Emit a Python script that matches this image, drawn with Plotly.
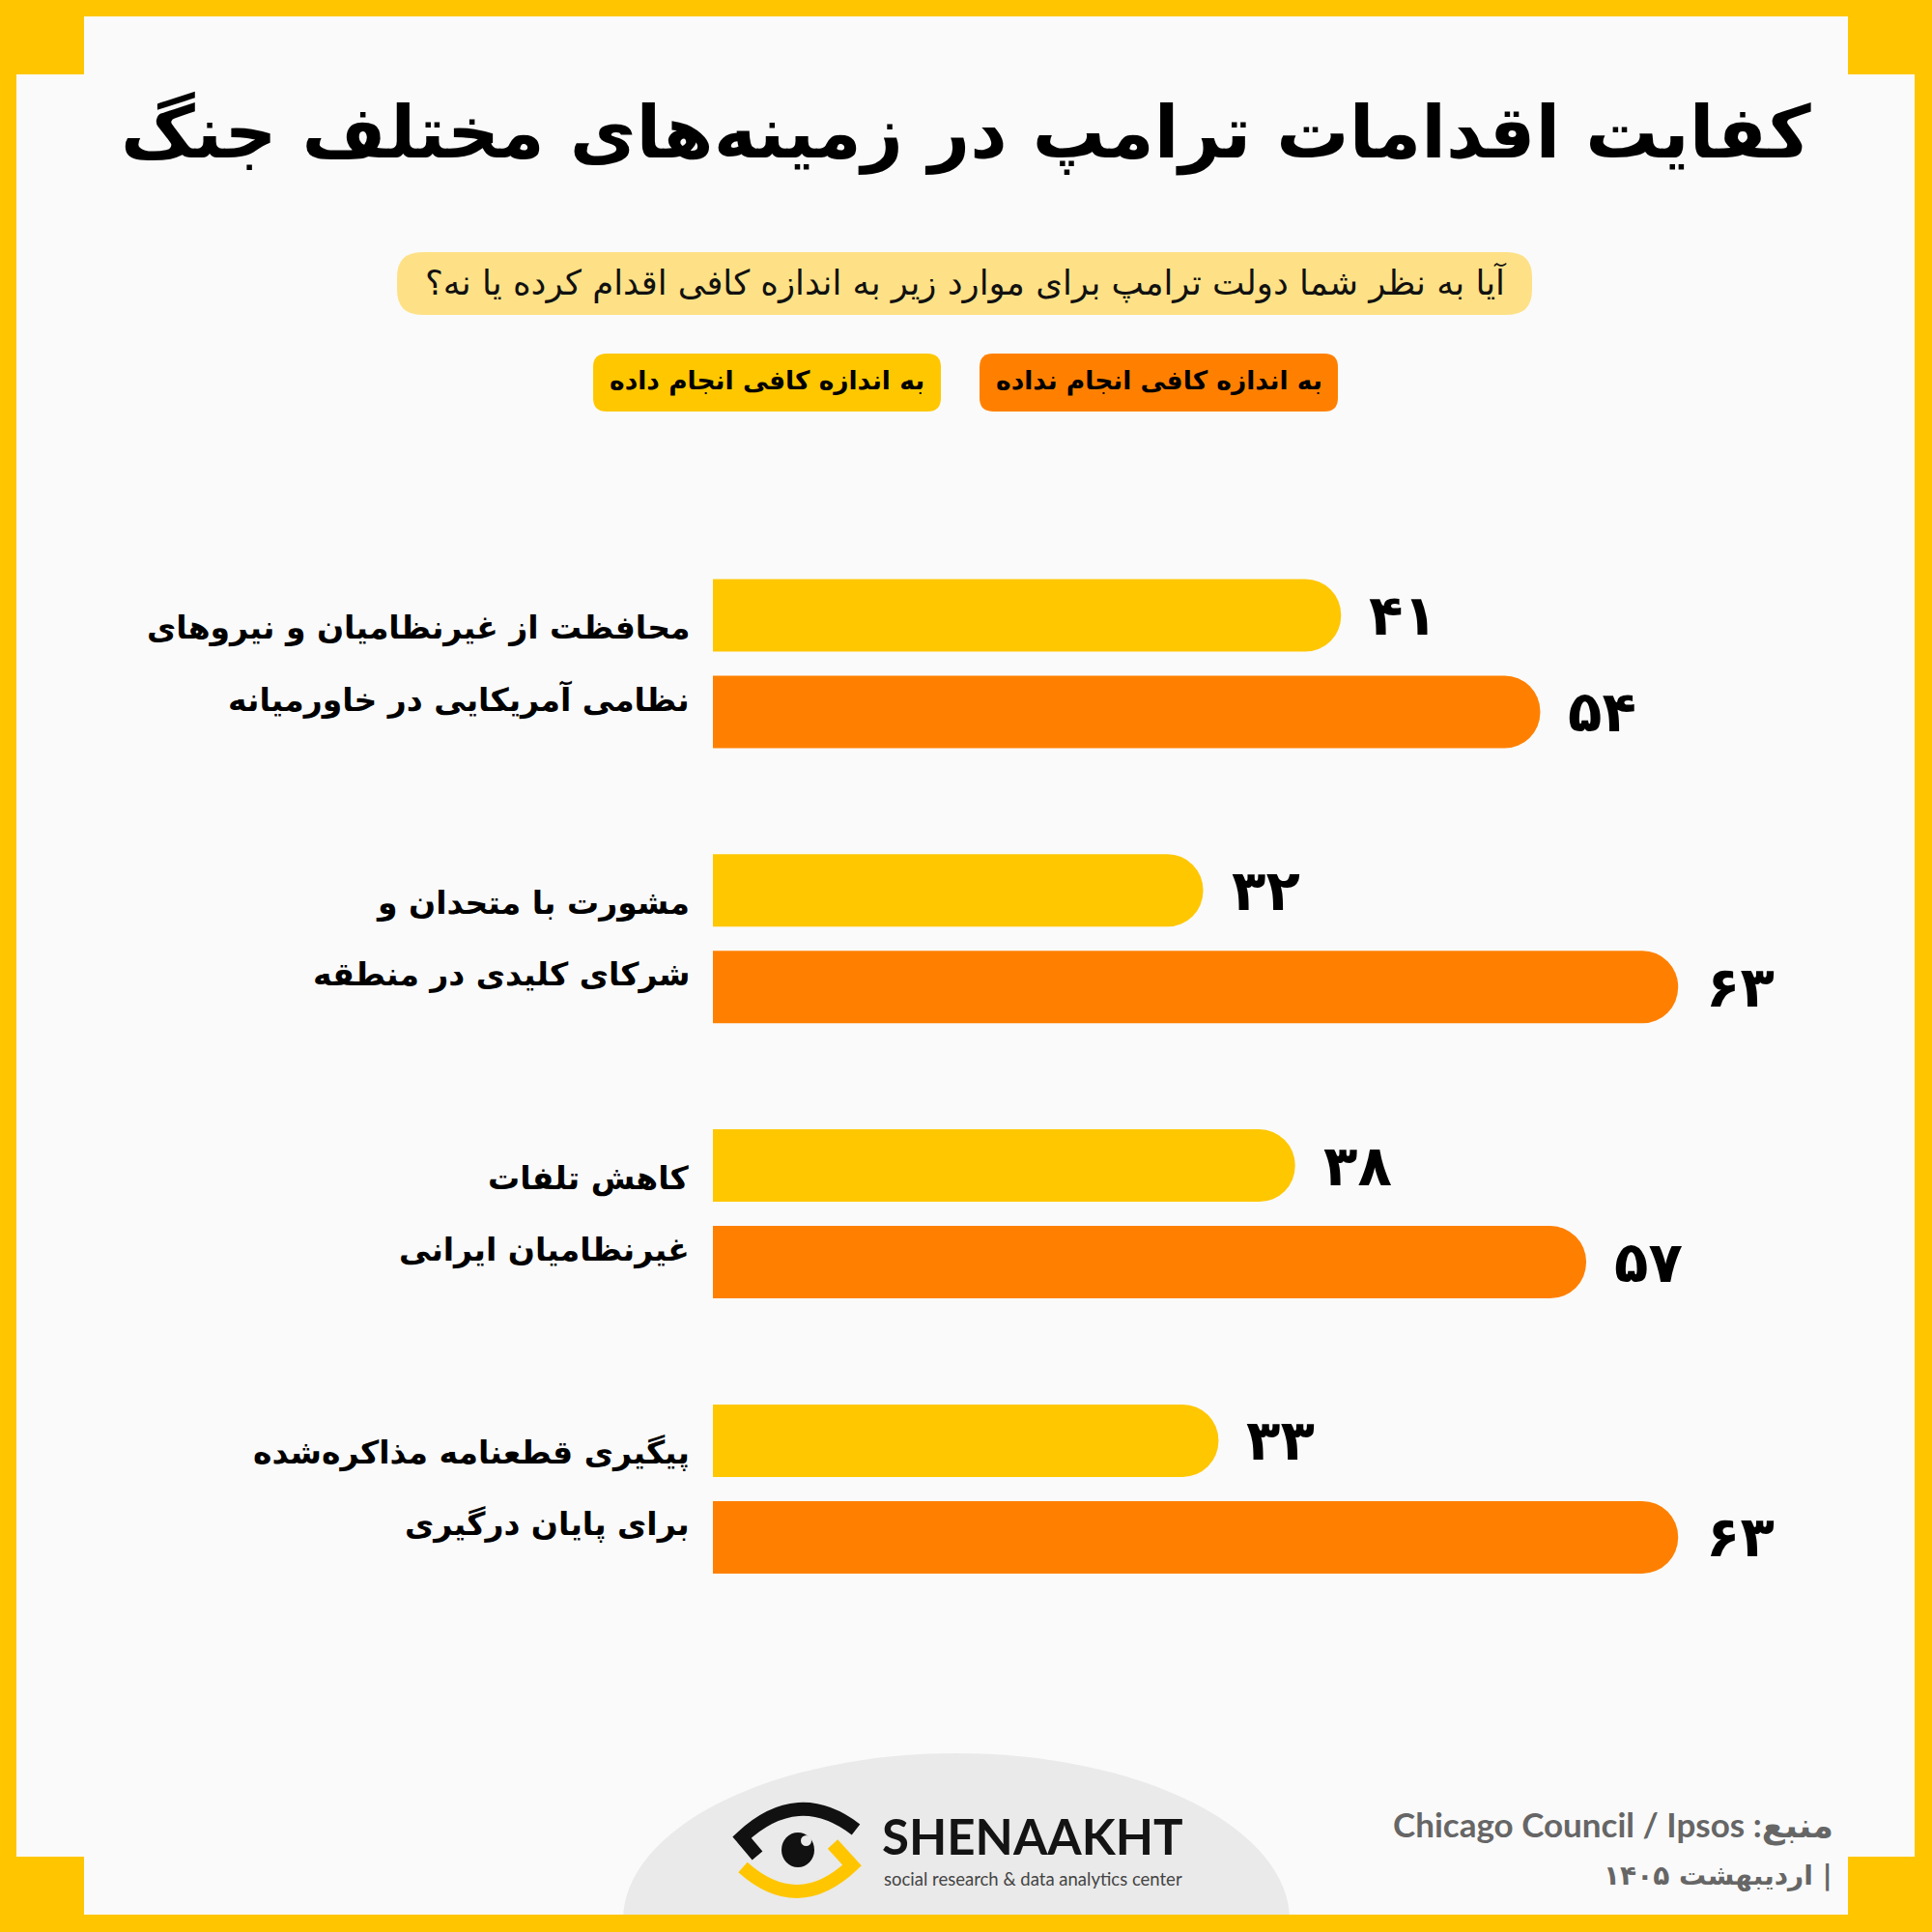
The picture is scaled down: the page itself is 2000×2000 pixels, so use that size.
import plotly.graph_objects as go

# ---------------- data ----------------
categories = [
    "محافظت از غیرنظامیان و نیروهای\nنظامی آمریکایی در خاورمیانه",
    "مشورت با متحدان و\nشرکای کلیدی در منطقه",
    "کاهش تلفات\nغیرنظامیان ایرانی",
    "پیگیری قطعنامه مذاکره‌شده\nبرای پایان درگیری",
]
done_values = [41, 32, 38, 33]        # به اندازه کافی انجام داده
not_done_values = [54, 63, 57, 63]    # به اندازه کافی انجام نداده
series_names = ["به اندازه کافی انجام داده", "به اندازه کافی انجام نداده"]
title_text = "کفایت اقدامات ترامپ در زمینه‌های مختلف جنگ"
question_text = "آیا به نظر شما دولت ترامپ برای موارد زیر به اندازه کافی اقدام کرده یا نه؟"
source_text = "Chicago Council / Ipsos :منبع"
date_text = "۱۴۰۵ اردیبهشت |"
brand_name = "SHENAAKHT"
brand_tagline = "social research & data analytics center"

# ---------------- style ----------------
W = H = 2000
YELLOW = "#FFC700"
ORANGE = "#FF8000"
BORDER = "#FFC600"
BG = "#FAFAFA"
FA = "DejaVu Sans"

PX_PER_UNIT = 15.86
X0_PX = 738
GROUP_PX = 284.8
FIRST_CENTER_PX = 687
BAR_PX = 75
HALF_SEP_PX = 50

def fa_digits(v):
    return str(v).translate(str.maketrans("0123456789", "۰۱۲۳۴۵۶۷۸۹"))

def px(x):
    return x / W

def py(y):
    return 1 - y / H

def P(x, y):
    return f"{px(x):.5f},{py(y):.5f}"

def rrect_path(x0, y0, x1, y1, r):
    return (f"M {P(x0 + r, y0)} L {P(x1 - r, y0)} Q {P(x1, y0)} {P(x1, y0 + r)} "
            f"L {P(x1, y1 - r)} Q {P(x1, y1)} {P(x1 - r, y1)} L {P(x0 + r, y1)} "
            f"Q {P(x0, y1)} {P(x0, y1 - r)} L {P(x0, y0 + r)} Q {P(x0, y0)} {P(x0 + r, y0)} Z")

idx = list(range(len(categories)))
bw = BAR_PX / GROUP_PX
off_top = (-HALF_SEP_PX - BAR_PX / 2) / GROUP_PX
off_bot = (HALF_SEP_PX - BAR_PX / 2) / GROUP_PX

fig = go.Figure()
fig.add_trace(go.Bar(x=done_values, y=idx, orientation="h", name=series_names[0],
                     width=[bw] * len(idx), offset=off_top,
                     marker=dict(color=YELLOW, cornerradius=37, line=dict(width=0)),
                     hoverinfo="skip", showlegend=False))
fig.add_trace(go.Bar(x=not_done_values, y=idx, orientation="h", name=series_names[1],
                     width=[bw] * len(idx), offset=off_bot,
                     marker=dict(color=ORANGE, cornerradius=37, line=dict(width=0)),
                     hoverinfo="skip", showlegend=False))

annotations = []
shapes = []

# value labels
for i in idx:
    for vals, c in ((done_values, -HALF_SEP_PX), (not_done_values, HALF_SEP_PX)):
        annotations.append(dict(x=vals[i], y=i + c / GROUP_PX, xref="x", yref="y",
                                text=f"<b>{fa_digits(vals[i])}</b>", showarrow=False,
                                xanchor="left", yanchor="middle", xshift=27,
                                font=dict(family=FA, size=58, color="#000")))
# category labels
for i, cat in enumerate(categories):
    lines = cat.split("\n")
    for j, line in enumerate(lines):
        dy = (-37 if j == 0 else 37) / GROUP_PX
        annotations.append(dict(x=px(716), y=i + dy, xref="paper", yref="y",
                                text=f"<b>{line}</b>", showarrow=False,
                                xanchor="right", yanchor="middle",
                                font=dict(family=FA, size=33, color="#000")))

# title & question
annotations.append(dict(x=0.5, y=py(138), xref="paper", yref="paper",
                        text=f"<b>{title_text}</b>", showarrow=False,
                        xanchor="center", yanchor="middle",
                        font=dict(family=FA, size=75, color="#000")))
shapes.append(dict(type="path", xref="paper", yref="paper", path=rrect_path(411, 261, 1586, 326, 26),
                   fillcolor="#FEE186", line=dict(width=0), layer="below"))
annotations.append(dict(x=px(1000), y=py(293), xref="paper", yref="paper",
                        text=question_text, showarrow=False,
                        xanchor="center", yanchor="middle",
                        font=dict(family=FA, size=35.5, color="#111")))

# legend pills
legend_boxes = [(614, 974, YELLOW), (1014, 1385, ORANGE)]
for name, (x0, x1, col) in zip(series_names, legend_boxes):
    shapes.append(dict(type="path", xref="paper", yref="paper", path=rrect_path(x0, 366, x1, 426, 14),
                       fillcolor=col, line=dict(width=0), layer="below"))
    annotations.append(dict(x=px((x0 + x1) / 2), y=py(394), xref="paper", yref="paper",
                            text=f"<b>{name}</b>", showarrow=False,
                            xanchor="center", yanchor="middle",
                            font=dict(family=FA, size=26.5, color="#000")))

# footer gray dome
shapes.append(dict(type="circle", xref="paper", yref="paper",
                   x0=px(645), x1=px(1335), y0=py(2160), y1=py(1815),
                   fillcolor="#EAEAEA", line=dict(width=0), layer="below"))
# logo eye
shapes.append(dict(type="path", xref="paper", yref="paper",
                   path=f"M {P(784, 1921)} L {P(768, 1902)} Q {P(826, 1848)} {P(886, 1894)}",
                   fillcolor="rgba(0,0,0,0)", line=dict(color="#111", width=14)))
shapes.append(dict(type="path", xref="paper", yref="paper",
                   path=f"M {P(862, 1909)} L {P(882, 1931)} Q {P(826, 1984)} {P(769, 1933)}",
                   fillcolor="rgba(0,0,0,0)", line=dict(color=BORDER, width=14)))
shapes.append(dict(type="circle", xref="paper", yref="paper",
                   x0=px(809), x1=px(843), y0=py(1933), y1=py(1897),
                   fillcolor="#111", line=dict(width=0)))
shapes.append(dict(type="circle", xref="paper", yref="paper",
                   x0=px(829), x1=px(840), y0=py(1911), y1=py(1900),
                   fillcolor="#EAEAEA", line=dict(width=0)))
annotations.append(dict(x=px(911), y=py(1900), xref="paper", yref="paper",
                        text=f"<b>{brand_name}</b>", showarrow=False,
                        xanchor="left", yanchor="middle",
                        font=dict(family="Lato", size=51, color="#141414")))
annotations.append(dict(x=px(913), y=py(1945), xref="paper", yref="paper",
                        text=brand_tagline, showarrow=False,
                        xanchor="left", yanchor="middle",
                        font=dict(family="Lato", size=18.5, color="#444")))
# source
annotations.append(dict(x=px(1900), y=py(1889), xref="paper", yref="paper",
                        text=f"<b>{source_text}</b>", showarrow=False,
                        xanchor="right", yanchor="middle",
                        font=dict(family=f"Lato, {FA}", size=35, color="#666")))
annotations.append(dict(x=px(1899), y=py(1941), xref="paper", yref="paper",
                        text=f"<b>{date_text}</b>", showarrow=False,
                        xanchor="right", yanchor="middle",
                        font=dict(family=FA, size=28, color="#666")))

# yellow frame
frame = [(0, 0, 2000, 17), (0, 1982, 2000, 2000), (0, 0, 17, 2000), (1982, 0, 2000, 2000),
         (0, 0, 87, 77), (1913, 0, 2000, 77), (0, 1922, 87, 2000), (1913, 1922, 2000, 2000)]
for x0, y0, x1, y1 in frame:
    shapes.append(dict(type="rect", xref="paper", yref="paper",
                       x0=px(x0), x1=px(x1), y0=py(y1), y1=py(y0),
                       fillcolor=BORDER, line=dict(width=0), layer="above"))

fig.update_layout(
    width=W, height=H,
    margin=dict(l=0, r=0, t=0, b=0),
    paper_bgcolor=BG, plot_bgcolor="rgba(0,0,0,0)",
    barmode="overlay",
    xaxis=dict(range=[-X0_PX / PX_PER_UNIT, (W - X0_PX) / PX_PER_UNIT], visible=False, fixedrange=True),
    yaxis=dict(range=[(H - FIRST_CENTER_PX) / GROUP_PX, -FIRST_CENTER_PX / GROUP_PX],
               visible=False, fixedrange=True),
    shapes=shapes, annotations=annotations,
    showlegend=False,
)

fig.write_html("out.html")
